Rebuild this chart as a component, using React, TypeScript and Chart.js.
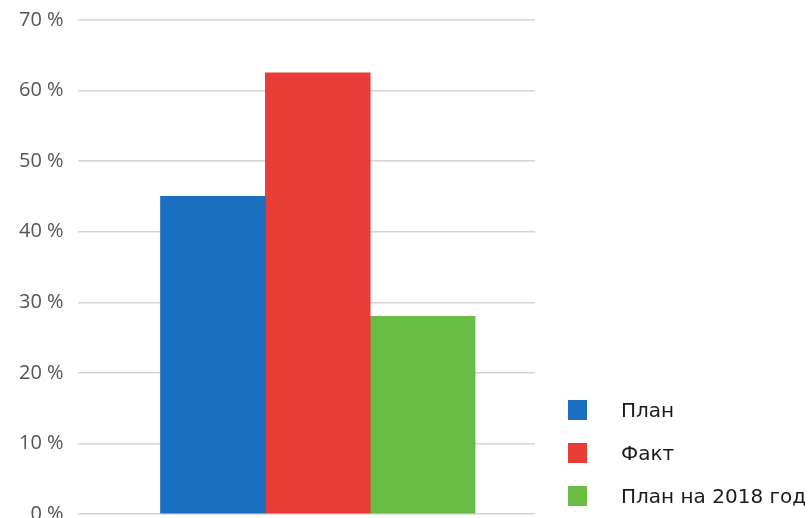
import React, { useEffect, useRef } from "react";
import { Chart, registerables } from "chart.js";
Chart.register(...registerables);

const seriesNames = ["План", "Факт", "План на 2018 год"];
const seriesValues = [45, 62.5, 28];
const seriesColors = ["#1b6fc1", "#e83c36", "#69bd45"];
const yTicks = [0, 10, 20, 30, 40, 50, 60, 70];

export default function App() {
  const ref = useRef<HTMLCanvasElement | null>(null);
  useEffect(() => {
    if (!ref.current) return;
    const chart = new Chart(ref.current, {
      type: "bar",
      data: {
        datasets: seriesNames.map((name, i) => ({
          label: name,
          data: [{ x: i + 1, y: seriesValues[i] }],
          backgroundColor: seriesColors[i],
          barPercentage: 1,
          categoryPercentage: 1,
        })),
      },
      options: {
        animation: false,
        responsive: false,
        layout: { padding: { top: 1, right: 275, bottom: 0, left: 5 } },
        plugins: { legend: { display: false }, tooltip: { enabled: false } },
        scales: {
          x: {
            type: "linear",
            stacked: true,
            offset: false,
            min: -0.2905,
            max: 4.0714,
            display: false,
            afterBuildTicks: (s: any) => {
              s.ticks = [{ value: 1 }, { value: 2 }, { value: 3 }];
            },
            grid: { display: false },
          },
          y: {
            min: 0,
            max: 70,
            afterBuildTicks: (s: any) => {
              s.ticks = yTicks.map((v) => ({ value: v }));
            },
            border: { display: false },
            grid: { color: "#d4d4d4", lineWidth: 1.5, drawTicks: false },
            ticks: {
              padding: 14,
              color: "#555",
              font: { family: "'Open Sans', sans-serif", size: 20 },
              callback: (v: any) => v + " %",
            },
          },
        },
      },
    });
    return () => chart.destroy();
  }, []);

  const legendTop = [400, 443, 486];
  return (
    <div style={{ position: "fixed", left: 0, top: 0, width: 810, height: 518, overflow: "hidden", background: "#fff" }}>
      <canvas ref={ref} width={810} height={546} style={{ position: "absolute", left: 0, top: -6, width: 810, height: 546 }} />
      {seriesNames.map((n, i) => (
        <div key={n} style={{ position: "absolute", left: 568, top: legendTop[i], height: 20, display: "flex", alignItems: "center", fontFamily: "'DejaVu Sans', sans-serif", fontSize: 20, color: "#1a1a1a", whiteSpace: "nowrap" }}>
          <span style={{ display: "inline-block", width: 19, height: 20, background: seriesColors[i], marginRight: 34 }} />
          <span>{n}</span>
        </div>
      ))}
    </div>
  );
}
